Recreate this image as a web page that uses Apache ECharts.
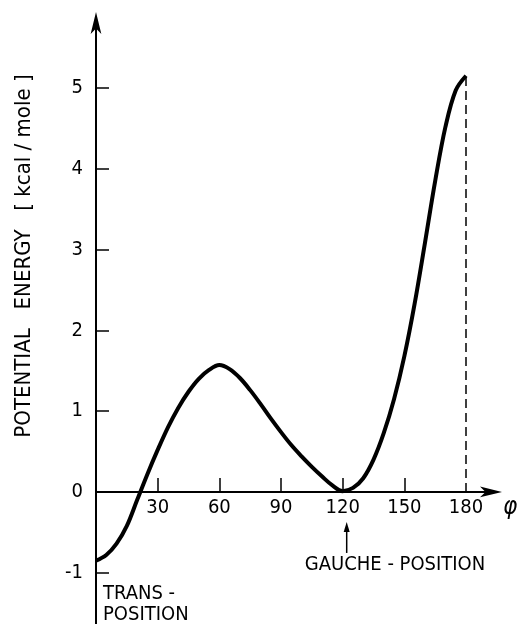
<!DOCTYPE html>
<html><head><meta charset="utf-8">
<script src="https://cdn.jsdelivr.net/npm/echarts@6/dist/echarts.min.js"></script>
<style>html,body{margin:0;padding:0;background:#fff}#c{width:520px;height:624px}</style>
</head><body><div id="c"></div>
<script>
// torsion angle (degrees)
const angles = [0,5,10,15,20,25,30,35,40,45,50,55,60,65,70,75,80,85,90,95,100,105,110,115,120,125,130,135,140,145,150,155,160,165,170,175,180];
// potential energy (kcal/mole)
const energy = [-0.85,-0.78,-0.64,-0.42,-0.10,0.22,0.52,0.80,1.04,1.24,1.40,1.51,1.57,1.52,1.41,1.26,1.09,0.91,0.74,0.58,0.44,0.31,0.19,0.08,0.01,0.05,0.17,0.40,0.73,1.15,1.68,2.33,3.08,3.85,4.52,4.97,5.15];
const xTickLabels = [30,60,90,120,150,180];
const xTicks = [30,60,90,120,150];
const yTickLabels = [-1,0,1,2,3,4,5];
const yTicks = [-1,1,2,3,4,5];
const yAxisTitle = 'POTENTIAL   ENERGY   [ kcal / mole ]';
const xAxisSymbol = 'φ';
const transLabel = ['TRANS -', 'POSITION'];
const gaucheLabel = 'GAUCHE - POSITION';
const gaucheAngle = 120;

const FONT = "'Liberation Sans Narrow','DejaVu Sans Condensed','Liberation Sans',sans-serif";
const W = 520, H = 624;
const G = {left:96, right:26, top:20, bottom:0};
const X_MIN = 0, X_MAX = 193.6, Y_MIN = -1.634, Y_MAX = 5.84;
const plotH = H - G.top - G.bottom;
const zeroY = G.top + Y_MAX / (Y_MAX - Y_MIN) * plotH;
const xOffset = -(H - G.bottom - zeroY);

const chart = echarts.init(document.getElementById('c'), null, {renderer:'canvas'});
const data = angles.map((a,i)=>[a, energy[i]]);
const last = data[data.length-1];

chart.setOption({
  animation:false,
  backgroundColor:'#fff',
  grid:Object.assign({containLabel:false, outerBoundsMode:'none'}, G),
  xAxis:{type:'value', min:X_MIN, max:X_MAX, position:'bottom', offset:xOffset,
    axisLine:{onZero:false, lineStyle:{color:'#000', width:2}, symbol:['none','arrow'], symbolSize:[8,22], symbolOffset:[0,8]},
    axisTick:{inside:true, length:14, customValues:xTicks, lineStyle:{color:'#000', width:1.5}},
    axisLabel:{customValues:xTickLabels, color:'#000', fontSize:20, fontFamily:FONT, margin:6},
    splitLine:{show:false}},
  yAxis:{type:'value', min:Y_MIN, max:Y_MAX,
    axisLine:{onZero:false, lineStyle:{color:'#000', width:2}, symbol:['none','arrow'], symbolSize:[8,22], symbolOffset:[0,8]},
    axisTick:{inside:true, length:13, customValues:yTicks, lineStyle:{color:'#000', width:1.5}},
    axisLabel:{customValues:yTickLabels, color:'#000', fontSize:20, fontFamily:FONT, margin:13},
    splitLine:{show:false}},
  series:[{type:'line', data:data, smooth:0.35, showSymbol:false,
    lineStyle:{color:'#000', width:4},
    markLine:{silent:true, symbol:['none','none'], label:{show:false},
      lineStyle:{color:'#000', width:1.5, type:[9,5]},
      data:[[{coord:[last[0],0]},{coord:[last[0],last[1]]}]]}}]
});

const px = (x,y)=>chart.convertToPixel({gridIndex:0},[x,y]);
const o = px(0,0);
const m1 = px(0,-1);
const g = px(gaucheAngle,0);
const ax = g[0] + 4;
const textStyle = (t,extra)=>Object.assign({text:t, fill:'#000', fontSize:20, fontFamily:FONT}, extra||{});
chart.setOption({graphic:[
  {type:'text', x:24, y:256, rotation:Math.PI/2, style:textStyle(yAxisTitle,{fontSize:22, align:'center', verticalAlign:'middle'})},
  {type:'text', x:o[0]+7, y:m1[1]+11, style:textStyle(transLabel.join('\n'),{lineHeight:21, align:'left', verticalAlign:'top'})},
  {type:'text', x:395, y:g[1]+73, style:textStyle(gaucheLabel,{align:'center', verticalAlign:'middle'})},
  {type:'line', shape:{x1:ax, y1:g[1]+61, x2:ax, y2:g[1]+36}, style:{stroke:'#000', lineWidth:1.5}},
  {type:'polygon', shape:{points:[[ax,g[1]+30],[ax-3,g[1]+40],[ax+3,g[1]+40]]}, style:{fill:'#000'}},
  {type:'text', x:503, y:o[1]+16, style:textStyle(xAxisSymbol,{fontSize:24, fontStyle:'italic', align:'left', verticalAlign:'middle'})}
]});
</script></body></html>
